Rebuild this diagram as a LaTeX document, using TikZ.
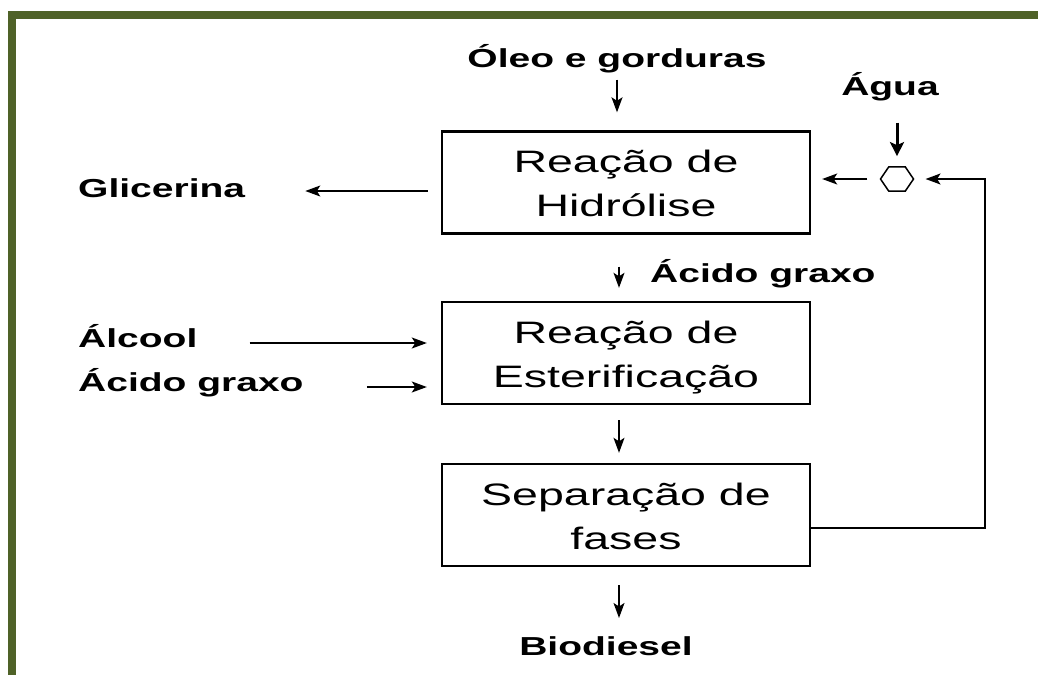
\documentclass[tikz,border=0pt]{standalone}
\usepackage{fontspec}
\setmainfont[FakeStretch=1.5]{Liberation Sans}
\usepackage{tikz}
\usetikzlibrary{shapes.geometric}
\usetikzlibrary{arrows.meta}
\definecolor{frame green}{RGB}{79,98,40}
\tikzset{
  box node/.style={draw,line width=2.4pt,minimum width=368pt,minimum height=102pt,inner sep=0pt,align=center,font=\fontsize{31}{44}\selectfont},
  label node/.style={inner sep=0pt,font=\fontsize{26}{30}\selectfont\bfseries},
  mix node/.style={draw,regular polygon,regular polygon sides=6,minimum size=28pt,inner sep=0pt,line width=1.5pt,xscale=1.18},
  flow/.style={line width=1.4pt,-{Stealth[length=15pt,width=11pt,inset=3.5pt]}}
}
\newcommand{\boxlines}[2]{\rule{0pt}{24pt}#1\\\raisebox{0pt}[\height][0pt]{#2}}

\begin{document}
\begin{tikzpicture}[x=1pt,y=-1pt]
  \fill[white] (0,0) rectangle (1038,675);
  \useasboundingbox (0,0) rectangle (1038,675);
  % frame
  \fill[frame green] (8,11) rectangle (1038,19);
  \fill[frame green] (8,11) rectangle (16,675);
  % process boxes
  \node[box node] (hid) at (626,182.5) {\boxlines{Reação de}{Hidrólise}};
  \node[box node] (est) at (626,353) {\boxlines{Reação de}{Esterificação}};
  \node[box node] (sep) at (626,515) {\boxlines{Separação de}{fases}};
  \node[mix node] (mix) at (897,179) {};
  % streams
  \node[label node,anchor=base] (oleo) at (617,67) {Óleo e gorduras};
  \node[label node,anchor=base] (agua) at (890,95) {Água};
  \node[label node,anchor=base west] (gli) at (78,197) {Glicerina};
  \node[label node,anchor=base west] (alc) at (78,347) {Álcool};
  \node[label node,anchor=base west] (acid) at (78,391) {Ácido graxo};
  \node[label node,anchor=base west] (acid2) at (650,282) {Ácido graxo};
  \node[label node,anchor=base] (bio) at (606,655) {Biodiesel};
  \coordinate (bend) at (985,179);
  % connectors
  \draw[flow,shorten <=7pt,shorten >=18pt] (oleo.south) -- (oleo.south |- hid.north);
  \draw[flow,shorten <=32pt,shorten >=13pt] ([xshift=-7pt]hid.south) -- ([xshift=-7pt]est.north);
  \draw[flow,shorten <=15pt,shorten >=10pt] ([xshift=-7pt]est.south) -- ([xshift=-7pt]sep.north);
  \draw[flow,shorten <=18pt,shorten >=18pt] ([xshift=-7pt]sep.south) -- ([xshift=-7pt]sep.south |- bio.north);
  \draw[line width=3pt,-{Stealth[length=14pt,width=14pt,inset=3pt]},shorten <=22pt,shorten >=10pt] (agua.south -| mix.north) -- (mix.north);
  \draw[flow,shorten <=12pt,shorten >=11pt] (mix.west) -- (mix.west -| hid.east);
  \draw[flow,line width=1.6pt,shorten >=11pt] ([yshift=-13pt]sep.east) -| (bend) -- (mix.east);
  \draw[flow,shorten <=13pt,shorten >=60pt] ([yshift=6pt]gli.base east -| hid.west) -- ([yshift=6pt]gli.base east);
  \draw[flow,shorten <=52pt,shorten >=14pt] ([yshift=4pt]alc.base east) -- ([yshift=4pt]alc.base east -| est.west);
  \draw[flow,shorten <=63pt,shorten >=14pt] ([yshift=4pt]acid.base east) -- ([yshift=4pt]acid.base east -| est.west);
\end{tikzpicture}
\end{document}
